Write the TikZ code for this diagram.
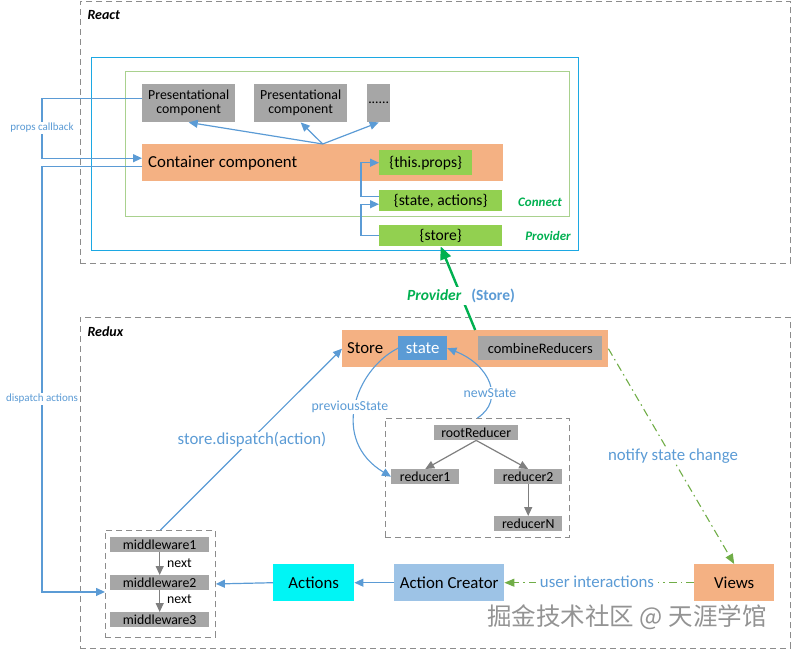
\documentclass[tikz,border=0pt]{standalone}
\usepackage{fontspec}
\setmainfont{Carlito}
\newfontfamily\cjk{Noto Sans CJK SC}
\usetikzlibrary{arrows.meta,calc}
\definecolor{gbox}{HTML}{A6A6A6}
\definecolor{obox}{HTML}{F4B183}
\definecolor{grn}{HTML}{92D050}
\definecolor{lblue}{HTML}{5B9BD5}
\definecolor{acblue}{HTML}{9DC3E6}
\definecolor{cyanbox}{HTML}{00F5F5}
\definecolor{provblue}{HTML}{1CA8E3}
\definecolor{conngreen}{HTML}{A9D18E}
\definecolor{labgreen}{HTML}{00B050}
\definecolor{dashgreen}{HTML}{70AD47}
\definecolor{framegray}{HTML}{8C8C8C}
\definecolor{arrgray}{HTML}{7F7F7F}
\tikzset{
  f10/.style={font=\fontsize{11pt}{13pt}\selectfont},
  f12/.style={font=\fontsize{13.8pt}{15pt}\selectfont},
  f13/.style={font=\fontsize{14.5pt}{16pt}\selectfont},
  f14/.style={font=\fontsize{15.6pt}{17pt}\selectfont},
  f15/.style={font=\fontsize{16.8pt}{18pt}\selectfont},
  box/.style={rectangle, inner sep=0pt, anchor=north west},
  graybox/.style={box, fill=gbox, text=black},
  orbox/.style={box, fill=obox, text=black},
  grnbox/.style={box, fill=grn, text=black},
  dframe/.style={box, draw=framegray, line width=0.9pt, dash pattern=on 6pt off 4pt},
  barrow/.style={draw=lblue, line width=1.2pt, -{Triangle[length=9pt,width=8pt]}},
  garrow/.style={draw=arrgray, line width=1.2pt, -{Triangle[length=9pt,width=8pt]}},
  dashdot/.style={draw=dashgreen, line width=1.1pt, dash pattern=on 8pt off 4pt on 1.5pt off 4pt, -{Triangle[length=10pt,width=8pt]}},
  bluelbl/.style={text=lblue, fill=white, inner sep=1pt},
}
\begin{document}
\begin{tikzpicture}[x=1pt,y=-1pt]
\useasboundingbox (0,0) rectangle (791,650);

% frames
\node[dframe, minimum width=710pt, minimum height=262pt] (react) at (80,1) {};
\node[dframe, minimum width=710pt, minimum height=331pt] (redux) at (80,317) {};
\node[anchor=west, font=\fontsize{14pt}{16pt}\selectfont\bfseries\itshape] (reactlbl) at (84,15) {React};
\node[anchor=west, font=\fontsize{14pt}{16pt}\selectfont\bfseries\itshape] (reduxlbl) at (84,332) {Redux};

\node[box, draw=provblue, line width=1.3pt, minimum width=487pt, minimum height=193pt] (provframe) at (91,57) {};
\node[box, draw=conngreen, line width=1.1pt, minimum width=444pt, minimum height=145pt] (connframe) at (125,71) {};
\node[text=labgreen, font=\fontsize{13pt}{15pt}\selectfont\bfseries\itshape] (connlbl) at (540,202) {Connect};
\node[text=labgreen, font=\fontsize{13pt}{15pt}\selectfont\bfseries\itshape] (provlblsmall) at (548,236) {Provider};

% React boxes
\node[graybox, f12, align=center, minimum width=93pt, minimum height=38pt] (p1) at (142,84) {Presentational\\[-1pt]component};
\node[graybox, f12, align=center, minimum width=93pt, minimum height=38pt] (p2) at (254,84) {Presentational\\[-1pt]component};
\node[graybox, f12, minimum width=23pt, minimum height=38pt] (dots) at (367,84) {......};
\node[orbox, f15, inner xsep=6pt, text width=349pt, align=flush left, minimum height=37pt] (cont) at (142,144) {Container component};
\node[grnbox, f14, minimum width=93pt, minimum height=25pt] (tp) at (379,150) {\{this.props\}};
\node[grnbox, f14, minimum width=123pt, minimum height=21pt] (sa) at (379,190) {\{state, actions\}};
\node[grnbox, f14, minimum width=123pt, minimum height=21pt] (st) at (379,225) {\{store\}};

% Redux boxes
\node[orbox, minimum width=266pt, minimum height=37pt] (sbox) at (342,330) {};
\node[anchor=west, f15, inner sep=0pt] (storelbl) at (347,348.5) {Store};
\node[box, fill=lblue, text=white, f15, minimum width=49pt, minimum height=24pt] (state) at (398,336) {state};
\node[graybox, f13, minimum width=124pt, minimum height=24pt] (cr) at (478,336) {combineReducers};

\node[dframe, minimum width=184pt, minimum height=119pt] (rbox) at (385,418) {};
\node[graybox, f12, minimum width=84pt, minimum height=15pt] (rr) at (434,425) {rootReducer};
\node[graybox, f12, minimum width=68pt, minimum height=15pt] (r1) at (391,469) {reducer1};
\node[graybox, f12, minimum width=68pt, minimum height=15pt] (r2) at (494,469) {reducer2};
\node[graybox, f12, minimum width=68pt, minimum height=15pt] (rN) at (494,516) {reducerN};

\node[dframe, minimum width=110pt, minimum height=107pt] (mwbox) at (105,530) {};
\node[graybox, f12, minimum width=99pt, minimum height=15pt] (m1) at (110,537) {middleware1};
\node[graybox, f12, minimum width=99pt, minimum height=15pt] (m2) at (110,575) {middleware2};
\node[graybox, f12, minimum width=99pt, minimum height=15pt] (m3) at (110,612) {middleware3};

\node[box, fill=cyanbox, f15, minimum width=81pt, minimum height=37pt] (act) at (273,564) {Actions};
\node[box, fill=acblue, f15, minimum width=110pt, minimum height=37pt] (ac) at (394,564) {Action Creator};
\node[orbox, f15, minimum width=80pt, minimum height=37pt] (views) at (694,564) {Views};

% React connectors
\coordinate (lx) at (42,0);
\draw[barrow] (cont.north) -- (p1.south);
\draw[barrow] (cont.north) -- (p2.south);
\draw[barrow] (cont.north) -- (dots.south);
\draw[barrow] ([yshift=5pt]p1.west) -- ([yshift=5pt]p1.west -| lx) -- ([yshift=4.5pt]cont.west -| lx) -- ([yshift=4.5pt]cont.west);
\draw[barrow] ([yshift=-3.5pt]cont.west) -- ([yshift=-3.5pt]cont.west -| lx) -- ([yshift=-8pt]mwbox.west -| lx) -- ([yshift=-8pt]mwbox.west);
\node[bluelbl, f10] (propscb) at (42,128) {props callback};
\node[bluelbl, f10] (dispact) at (42,399) {dispatch actions};
\draw[barrow] ([yshift=4.5pt]sa.west) -- ++(-18,0) |- (tp.west);
\draw[barrow] (st.west) -- ++(-18,0) |- ([yshift=-3.5pt]sa.west);

% Provider arrow
\draw[draw=labgreen, line width=2.4pt, -{Triangle[length=13pt,width=11pt]}] (sbox.north) -- (st.south);
\node[fill=white, inner sep=2pt, font=\fontsize{15.5pt}{17pt}\selectfont\bfseries] (provlbl) at (461,296) {\textcolor{labgreen}{\itshape Provider}\hspace{10pt}\textcolor{lblue}{(Store)}};

% Redux connectors
\draw[barrow] (mwbox.north) -- (sbox.west);
\node[bluelbl, f15] (dispatchlbl) at (252,440) {store.dispatch(action)};
\draw[barrow, line width=1.1pt] (state.west) .. controls (355,370) and (330,440) .. (r1.west);
\node[bluelbl, f12] (prevst) at (350,407) {previousState};
\draw[barrow, line width=1.1pt] (rbox.north) .. controls (505,400) and (490,365) .. (state.east);
\node[bluelbl, f12] (newst) at (490,393) {newState};

\draw[garrow] (rr.south) -- (r1.north);
\draw[garrow] (rr.south) -- (r2.north);
\draw[garrow] (r2.south) -- (rN.north);
\draw[garrow] (m1.south) -- (m2.north);
\draw[garrow] (m2.south) -- (m3.north);
\node[anchor=west, f12, inner sep=0pt] (next1) at (167,563) {next};
\node[anchor=west, f12, inner sep=0pt] (next2) at (167,599) {next};

\draw[barrow] (act.west) -- (mwbox.east);
\draw[barrow] (ac.west) -- (act.east);
\draw[dashdot] (views.west) -- (ac.east);
\node[bluelbl, f15, inner xsep=4pt] (userint) at (597,582) {user interactions};
\draw[dashdot] (sbox.east) -- (views.north);
\node[bluelbl, f15] (notify) at (673,456) {notify state change};

% watermark
\node[text=gray!85, font=\cjk\fontsize{24.5pt}{26pt}\selectfont] (wm) at (627,617) {掘金技术社区 @ 天涯学馆};
\end{tikzpicture}
\end{document}
